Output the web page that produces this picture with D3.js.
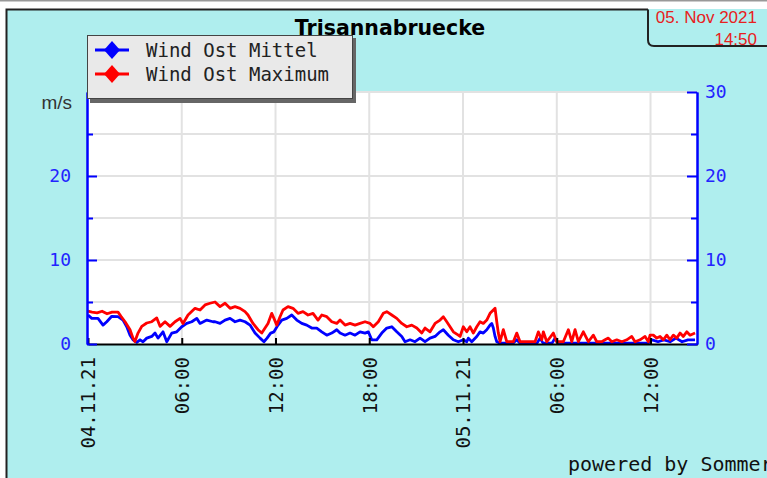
<!DOCTYPE html>
<html>
<head>
<meta charset="utf-8">
<script src="https://cdn.jsdelivr.net/npm/d3@7"></script>
<style>
  html, body { margin: 0; padding: 0; background: #fff; }
  svg { display: block; }
</style>
</head>
<body>
<svg id="chart" width="767" height="478"></svg>
<script>
// hours after 04.11.21 00:00, wind speed in m/s
const maxHours = [0, 0.26, 0.58, 0.9, 1.22, 1.54, 1.92, 2.11, 2.37, 2.69, 2.88, 3.0, 3.2, 3.44, 3.76, 4.08, 4.4, 4.61, 4.93, 5.25, 5.57, 5.89, 6.08, 6.4, 6.85, 7.17, 7.49, 7.81, 8.13, 8.45, 8.77, 9.09, 9.41, 9.73, 10.05, 10.24, 10.56, 10.88, 11.12, 11.33, 11.52, 11.76, 11.9, 12.08, 12.29, 12.48, 12.8, 13.12, 13.44, 13.76, 14.08, 14.4, 14.72, 14.96, 15.28, 15.6, 15.92, 16.13, 16.45, 16.77, 17.09, 17.41, 17.73, 18.05, 18.26, 18.58, 18.9, 19.12, 19.44, 19.76, 20.08, 20.4, 20.72, 21.04, 21.36, 21.57, 21.89, 22.21, 22.53, 22.74, 22.96, 23.17, 23.38, 23.7, 23.81, 24.02, 24.24, 24.45, 24.66, 24.88, 25.09, 25.3, 25.52, 25.73, 25.94, 26.05, 26.16, 26.26, 26.37, 26.58, 26.8, 27.22, 27.44, 27.65, 28.61, 28.82, 29.04, 29.14, 29.36, 29.78, 29.99, 30.42, 30.74, 30.96, 31.17, 31.38, 31.7, 32.02, 32.34, 32.56, 32.88, 33.09, 33.3, 33.52, 33.84, 34.16, 34.48, 34.8, 35.01, 35.33, 35.65, 35.86, 35.97, 36.18, 36.4, 36.61, 36.82, 37.04, 37.25, 37.46, 37.68, 37.89, 38.1, 38.32, 38.53, 38.85];
const maxValues = [3.9, 3.8, 3.7, 3.9, 3.6, 3.8, 3.8, 3.3, 2.65, 1.7, 0.7, 0.3, 1.3, 2.1, 2.5, 2.65, 3.1, 2.1, 2.65, 2.1, 2.65, 3.05, 2.45, 3.45, 4.25, 4.05, 4.65, 4.85, 5.0, 4.45, 4.85, 4.25, 4.45, 4.25, 3.85, 3.45, 2.45, 1.7, 1.3, 1.9, 2.45, 3.65, 3.05, 2.25, 3.25, 4.05, 4.45, 4.25, 3.65, 3.85, 3.45, 3.65, 2.85, 3.45, 3.25, 2.65, 2.45, 2.85, 2.25, 2.45, 2.25, 2.45, 2.65, 2.45, 2.05, 2.65, 3.65, 3.85, 3.45, 3.05, 2.45, 2.05, 2.25, 1.9, 1.3, 1.9, 1.45, 2.45, 2.85, 3.25, 2.65, 2.05, 1.45, 1.05, 0.9, 2.05, 1.45, 2.05, 1.3, 2.05, 2.65, 2.45, 2.85, 3.65, 4.05, 4.25, 2.65, 1.3, 0.27, 1.7, 0.27, 0.27, 1.3, 0.27, 0.27, 1.45, 0.5, 1.45, 0.27, 1.3, 0.27, 0.27, 1.7, 0.27, 1.7, 0.27, 1.45, 0.27, 1.05, 0.27, 0.27, 0.5, 0.7, 0.27, 0.5, 0.27, 0.5, 0.9, 0.27, 0.5, 0.9, 0.27, 1.05, 1.05, 0.7, 0.9, 0.5, 1.05, 0.5, 1.05, 0.7, 1.3, 0.9, 1.45, 1.05, 1.3];

const mittelHours = [0, 0.24, 0.64, 0.96, 1.2, 1.52, 1.92, 2.24, 2.48, 2.69, 2.88, 3.12, 3.33, 3.52, 3.76, 4.08, 4.29, 4.48, 4.8, 5.04, 5.36, 5.68, 6.0, 6.32, 6.64, 6.96, 7.17, 7.6, 8.0, 8.13, 8.45, 8.77, 9.09, 9.41, 9.73, 10.05, 10.37, 10.69, 11.01, 11.26, 11.46, 11.69, 11.9, 12.16, 12.4, 12.72, 13.04, 13.36, 13.68, 14.0, 14.32, 14.64, 14.96, 15.28, 15.6, 15.92, 16.13, 16.45, 16.77, 17.09, 17.41, 17.73, 17.94, 18.16, 18.48, 18.8, 19.12, 19.44, 19.76, 20.08, 20.29, 20.61, 20.93, 21.25, 21.57, 21.89, 22.21, 22.53, 22.74, 23.06, 23.38, 23.7, 24.02, 24.24, 24.34, 24.56, 24.88, 25.09, 25.3, 25.52, 25.73, 25.84, 25.94, 26.05, 26.16, 26.37, 27.2, 27.44, 27.65, 28.74, 28.93, 29.12, 29.7, 29.89, 30.08, 32.77, 35.84, 36.1, 36.48, 36.86, 37.25, 37.63, 38.02, 38.4, 38.85];
const mittelValues = [3.45, 3.05, 3.05, 2.25, 2.65, 3.3, 3.25, 2.85, 2.05, 1.05, 0.5, 0.2, 0.5, 0.27, 0.7, 0.9, 1.3, 0.7, 1.45, 0.27, 1.3, 1.45, 2.05, 2.45, 2.65, 3.05, 2.45, 2.85, 2.65, 2.65, 2.45, 2.85, 3.05, 2.65, 2.85, 2.65, 2.25, 1.3, 0.7, 0.27, 0.7, 1.3, 1.45, 2.25, 2.85, 3.05, 3.45, 2.85, 2.45, 2.25, 1.9, 1.9, 1.45, 1.05, 1.3, 1.7, 1.3, 1.05, 1.3, 1.05, 1.45, 1.3, 1.45, 0.5, 0.5, 1.3, 1.9, 2.05, 1.45, 0.9, 0.27, 0.5, 0.27, 0.7, 0.27, 0.7, 0.9, 1.45, 1.7, 1.05, 0.5, 0.27, 0.5, 0.27, 0.7, 0.27, 0.9, 1.45, 1.3, 1.7, 2.25, 2.45, 1.9, 0.9, 0.27, 0.1, 0.1, 0.5, 0.1, 0.1, 0.7, 0.1, 0.1, 0.7, 0.1, 0.1, 0.1, 0.5, 0.27, 0.5, 0.27, 0.7, 0.27, 0.5, 0.5];

const majorTicks = [0, 10, 20, 30];
const minorTicks = [5, 15, 25];
const gridTicks = [5, 10, 15, 20, 25, 30];
const seriesNames = ["Wind Ost Mittel", "Wind Ost Maximum"];
const seriesColors = ["#0000ff", "#ff0000"];

const start = new Date(2021, 10, 4, 0, 0);
const end = new Date(2021, 10, 5, 15, 0);
const toDate = h => new Date(start.getTime() + h * 3600e3);

const svg = d3.select("#chart");
const plot = {left: 87, right: 697, top: 92, bottom: 344};

const x = d3.scaleTime().domain([start, end]).range([88, 697.4]);
const y = d3.scaleLinear().domain([0, 30]).range([plot.bottom, plot.top]);

// background and frame
svg.append("line").attr("x1", 0).attr("x2", 767).attr("y1", 0.5).attr("y2", 0.5)
  .attr("stroke", "#999").attr("stroke-width", 2);
svg.append("rect").attr("x", 6).attr("y", 9).attr("width", 761).attr("height", 469)
  .attr("fill", "#afeeee");
svg.append("path").attr("d", "M6.5,478V9.5H648")
  .attr("fill", "none").attr("stroke", "#222").attr("stroke-width", 2);
svg.append("path").attr("d", "M648,9.5V40Q648,46 654,46H767")
  .attr("fill", "none").attr("stroke", "#222").attr("stroke-width", 2);

svg.append("rect").attr("x", plot.left).attr("y", plot.top)
  .attr("width", plot.right - plot.left).attr("height", plot.bottom - plot.top)
  .attr("fill", "#fff");

// grid
svg.append("g").selectAll("line").data(gridTicks).join("line")
  .attr("x1", plot.left).attr("x2", plot.right)
  .attr("y1", d => y(d)).attr("y2", d => y(d))
  .attr("stroke", "#e2e2e2").attr("stroke-width", 2);
svg.append("g").selectAll("line").data(x.ticks(d3.timeHour.every(6)).slice(1)).join("line")
  .attr("x1", d => x(d)).attr("x2", d => x(d))
  .attr("y1", plot.top).attr("y2", plot.bottom)
  .attr("stroke", "#e2e2e2").attr("stroke-width", 2);

// series
svg.append("clipPath").attr("id", "clip").append("rect")
  .attr("x", plot.left).attr("y", plot.top)
  .attr("width", plot.right - plot.left).attr("height", plot.bottom - plot.top + 2);

const line = d3.line().x(d => x(toDate(d[0]))).y(d => y(d[1]));
const series = [d3.zip(mittelHours, mittelValues), d3.zip(maxHours, maxValues)];
svg.append("g").attr("clip-path", "url(#clip)").selectAll("path").data(series).join("path")
  .attr("d", line)
  .attr("fill", "none")
  .attr("stroke", (d, i) => seriesColors[i])
  .attr("stroke-width", 2.8)
  .attr("stroke-linejoin", "round");

// x axis
const fmtDay = d3.timeFormat("%d.%m.%y");
const fmtHour = d3.timeFormat("%H:%M");
const xAxis = svg.append("g").attr("transform", `translate(0,${plot.bottom})`)
  .call(d3.axisBottom(x).ticks(d3.timeHour.every(6)).tickSizeInner(-6).tickSizeOuter(0)
    .tickFormat(d => d.getHours() === 0 ? fmtDay(d) : fmtHour(d)));
xAxis.select(".domain").attr("stroke", "#000").attr("stroke-width", 2);
xAxis.selectAll(".tick line").attr("stroke", "#000").attr("stroke-width", 2);
xAxis.selectAll("text")
  .attr("transform", "rotate(-90)")
  .attr("text-anchor", "end")
  .attr("x", -13).attr("y", 0).attr("dy", "0.36em")
  .attr("fill", "#111")
  .style("font", "19px 'DejaVu Sans Mono', monospace");

// y axes
function styleY(g) {
  g.select(".domain").attr("stroke", "#0000ff").attr("stroke-width", 2);
  g.selectAll(".tick line").attr("stroke", "#0000ff").attr("stroke-width", 2);
  g.selectAll("text").attr("fill", "#2323ff")
    .style("font", "18px 'DejaVu Sans Mono', monospace");
}
svg.append("g").attr("transform", `translate(${plot.left},0)`)
  .call(d3.axisLeft(y).tickValues(minorTicks).tickSizeInner(-6).tickSizeOuter(0).tickFormat(""))
  .call(styleY);
svg.append("g").attr("transform", `translate(${plot.left},0)`)
  .call(d3.axisLeft(y).tickValues(majorTicks).tickSizeInner(-10).tickSizeOuter(0).tickPadding(16)
    .tickFormat(d => d === 30 ? "" : d))
  .call(styleY);
svg.append("g").attr("transform", `translate(${plot.right},0)`)
  .call(d3.axisRight(y).tickValues(minorTicks).tickSizeInner(-6).tickSizeOuter(0).tickFormat(""))
  .call(styleY);
svg.append("g").attr("transform", `translate(${plot.right},0)`)
  .call(d3.axisRight(y).tickValues(majorTicks).tickSizeInner(-10).tickSizeOuter(0).tickPadding(8))
  .call(styleY);

svg.append("text").attr("x", 72).attr("y", 109).attr("text-anchor", "end")
  .attr("fill", "#333").style("font", "19px 'Liberation Sans', Arial, sans-serif")
  .text("m/s");

// title and time stamp
svg.append("text").attr("x", 390).attr("y", 35).attr("text-anchor", "middle")
  .style("font", "bold 20.5px 'DejaVu Sans', sans-serif").attr("fill", "#000")
  .text("Trisannabruecke");
svg.append("text").attr("x", 757).attr("y", 23).attr("text-anchor", "end")
  .style("font", "17px 'Liberation Sans', Arial, sans-serif").attr("fill", "#e82020")
  .text("05. Nov 2021");
svg.append("text").attr("x", 757).attr("y", 45).attr("text-anchor", "end")
  .style("font", "17px 'Liberation Sans', Arial, sans-serif").attr("fill", "#e82020")
  .text("14:50");

// legend
const legend = svg.append("g").attr("transform", "translate(87,35)");
legend.append("rect").attr("x", 3).attr("y", 3).attr("width", 266).attr("height", 65).attr("fill", "#666");
legend.append("rect").attr("x", 0.5).attr("y", 0.5).attr("width", 265).attr("height", 63)
  .attr("fill", "#e9e9e9").attr("stroke", "#444");
const items = legend.selectAll("g.item").data(seriesNames).join("g")
  .attr("transform", (d, i) => `translate(0,${15 + i * 24})`);
items.append("line").attr("x1", 8).attr("x2", 42).attr("stroke", (d, i) => seriesColors[i]).attr("stroke-width", 3);
items.append("path").attr("d", "M25,-9L33,0L25,9L17,0Z").attr("fill", (d, i) => seriesColors[i]);
items.append("text").attr("x", 59).attr("y", 7).attr("fill", "#222")
  .style("font", "19px 'DejaVu Sans Mono', monospace").text(d => d);

svg.append("text").attr("x", 568).attr("y", 471).attr("fill", "#111")
  .style("font", "20px 'DejaVu Sans Mono', monospace").text("powered by Sommer");
</script>
</body>
</html>
